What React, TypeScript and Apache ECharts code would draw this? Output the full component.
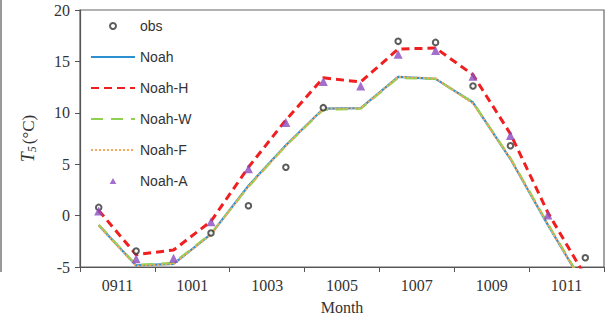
import React, { useEffect, useRef } from "react";
import * as echarts from "echarts";

const months = ["0911", "0912", "1001", "1002", "1003", "1004", "1005", "1006", "1007", "1008", "1009", "1010", "1011", "1012"];
const labelMonths = ["0911", "1001", "1003", "1005", "1007", "1009", "1011"];
const yTicks = { min: -5, max: 20, interval: 5 };

const obs = [0.8, -3.45, null, -1.7, 0.95, 4.7, 10.5, null, 16.95, 16.85, 12.6, 6.8, null, -4.1];
const noah = [-0.95, -4.85, -4.7, -1.8, 2.9, 6.85, 10.4, 10.45, 13.5, 13.3, 11.0, 5.5, -0.9, -7.0];
const noahH = [0.5, -3.8, -3.35, -0.55, 4.7, 9.3, 13.4, 13.0, 16.2, 16.3, 13.7, 7.95, 0.3, -5.9];
const noahW = [-0.9, -4.8, -4.6, -1.75, 2.8, 6.8, 10.3, 10.4, 13.4, 13.3, 11.0, 5.6, -0.8, -6.9];
const noahF = [-1.0, -4.9, -4.7, -1.85, 2.85, 6.8, 10.4, 10.45, 13.5, 13.35, 10.9, 5.5, -0.95, -7.0];
const noahA = [0.45, -4.2, -4.15, -0.6, 4.55, 9.05, 13.05, 12.6, 15.7, 16.05, 13.55, 7.8, 0.05, null];

const serif = "'Liberation Serif', 'Times New Roman', serif";
const sans = "'Liberation Sans', Arial, sans-serif";

export default function App() {
  const ref = useRef<HTMLDivElement>(null);
  useEffect(() => {
    if (!ref.current) return;
    const chart = echarts.init(ref.current, undefined, { renderer: "svg" });
    const lineSeries = (name: string, data: (number | null)[], color: string, type: any, width: number) => ({
      name,
      type: "line",
      data,
      symbol: "none",
      xAxisIndex: 0,
      lineStyle: { color, type, width },
      itemStyle: { color },
      z: 2,
    });
    const hideSym = { opacity: 0 };
    chart.setOption({
      animation: false,
      backgroundColor: "#fff",
      grid: { left: 80, right: 10, top: 10, bottom: 51, show: true, borderColor: "#666", borderWidth: 1.2 },
      legend: {
        orient: "vertical",
        left: 90,
        top: 19,
        padding: 0,
        itemWidth: 44,
        itemHeight: 6,
        itemGap: 17,
        textStyle: { fontFamily: sans, fontSize: 14, lineHeight: 14, color: "#333" },
        data: [
          { name: "obs" },
          { name: "Noah", itemStyle: hideSym },
          { name: "Noah-H", itemStyle: hideSym },
          { name: "Noah-W", itemStyle: hideSym },
          { name: "Noah-F", itemStyle: hideSym },
          { name: "Noah-A", icon: "path://M5,0L10,9L0,9Z" },
        ],
      },
      xAxis: [
        {
          type: "category",
          data: months,
          boundaryGap: true,
          show: false,
          gridIndex: 0,
        },
        {
          type: "category",
          data: labelMonths,
          boundaryGap: true,
          position: "bottom",
          gridIndex: 0,
          name: "Month",
          nameLocation: "middle",
          nameGap: 32,
          nameTextStyle: { fontFamily: serif, fontSize: 16, color: "#333" },
          axisLine: { lineStyle: { color: "#555", width: 1.2 } },
          axisTick: { show: true, inside: false, length: 5, lineStyle: { color: "#555" } },
          axisLabel: { fontFamily: serif, fontSize: 16, color: "#333", margin: 10 },
          splitLine: { show: false },
        },
      ],
      yAxis: {
        type: "value",
        min: yTicks.min,
        max: yTicks.max,
        interval: yTicks.interval,
        name: "{i|T}{s|5}{n|(°C)}",
        nameLocation: "middle",
        nameRotate: 90,
        nameGap: 42,
        nameTextStyle: {
          rich: {
            i: { fontFamily: serif, fontStyle: "italic", fontSize: 18, lineHeight: 20, color: "#333" },
            s: { fontFamily: serif, fontStyle: "italic", fontSize: 12, lineHeight: 20, color: "#333", verticalAlign: "bottom", padding: [0, 2, 0, 0] },
            n: { fontFamily: serif, fontSize: 17, lineHeight: 20, color: "#333" },
          },
        },
        axisLine: { show: true, lineStyle: { color: "#555", width: 1.2 } },
        axisTick: { show: true, length: 5, lineStyle: { color: "#555" } },
        axisLabel: { fontFamily: serif, fontSize: 16, color: "#333", margin: 10 },
        splitLine: { show: false },
      },
      graphic: [
        { type: "line", shape: { x1: 1, y1: 0, x2: 1, y2: 272 }, style: { stroke: "#999", lineWidth: 2 } },
      ],
      series: [
        {
          name: "obs",
          type: "scatter",
          data: obs,
          xAxisIndex: 0,
          symbol: "emptyCircle",
          symbolSize: 5.5,
          itemStyle: { color: "#333", borderColor: "#333", borderWidth: 1.4 },
          z: 3,
        },
        lineSeries("Noah", noah, "#2b8fd0", "solid", 2.2),
        lineSeries("Noah-H", noahH, "#f01e1e", [8, 5], 3),
        lineSeries("Noah-W", noahW, "#8fd14f", [12, 8], 2.2),
        lineSeries("Noah-F", noahF, "#f5a860", [2, 2], 2),
        {
          name: "Noah-A",
          type: "scatter",
          data: noahA,
          xAxisIndex: 0,
          symbol: "triangle",
          symbolSize: 9,
          itemStyle: { color: "#8b4bc0" },
          z: 4,
        },
      ],
    });
    return () => chart.dispose();
  }, []);
  return <div ref={ref} style={{ width: 614, height: 320, position: "absolute", left: 0, top: 0 }} />;
}
